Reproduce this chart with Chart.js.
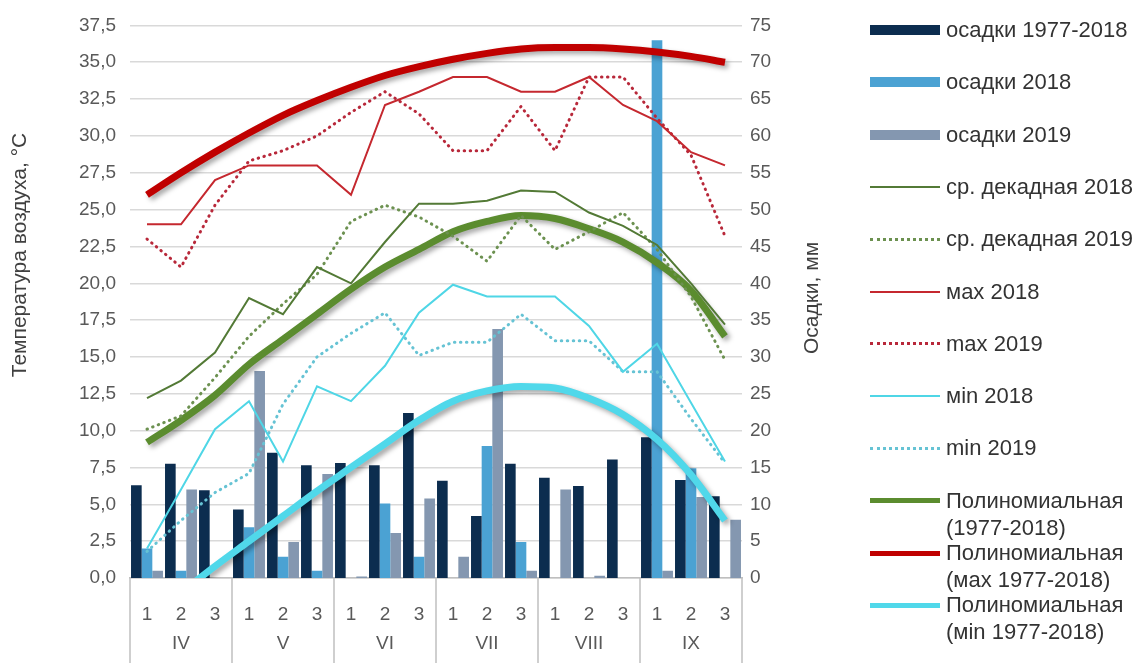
<!DOCTYPE html>
<html>
<head>
<meta charset="utf-8">
<script src="https://cdn.jsdelivr.net/npm/chart.js@4.4.1/dist/chart.umd.min.js"></script>
<style>
  html, body { margin: 0; padding: 0; background: #fff; }
  #wrap { position: relative; width: 1137px; height: 663px; }
  #legend { position: absolute; left: 0; top: 0; font-family: 'Liberation Sans', Arial, sans-serif; font-size: 22px; color: #333; }
  .item { position: absolute; left: 870px; }
  .sw { position: absolute; left: 0; width: 70px; }
  .txt { position: absolute; left: 76px; top: -14px; line-height: 27px; white-space: pre; }
</style>
</head>
<body>
<div id="wrap">
  <canvas id="chart" width="1137" height="663"></canvas>
  <div id="legend"></div>
</div>
<script>
const decades = ['1','2','3','1','2','3','1','2','3','1','2','3','1','2','3','1','2','3'];
const months = ['IV', 'V', 'VI', 'VII', 'VIII', 'IX'];

// осадки, мм
const precipNorm = [12.6, 15.5, 11.9, 9.3, 17.0, 15.3, 15.6, 15.3, 22.4, 13.2, 8.4, 15.5, 13.6, 12.5, 16.1, 19.1, 13.3, 11.1];
const precip2018 = [4.0, 1.0, 0, 6.9, 2.9, 1.0, 0, 10.1, 2.9, 0, 17.9, 4.9, 0, 0, 0, 73.0, 14.9, 0];
const precip2019 = [1.0, 12.0, 0, 28.1, 4.9, 14.1, 0.2, 6.1, 10.8, 2.9, 33.8, 1.0, 12.0, 0.3, 0, 1.0, 11.0, 7.9];

// температура, °C
const tAvg2018 = [12.2, 13.4, 15.3, 19.0, 17.9, 21.1, 20.0, 22.8, 25.4, 25.4, 25.6, 26.3, 26.2, 24.8, 23.9, 22.6, 20.0, 17.2];
const tAvg2019 = [10.1, 11.0, 13.6, 16.4, 18.6, 20.6, 24.2, 25.3, 24.5, 23.2, 21.5, 24.6, 22.3, 23.5, 24.8, 22.3, 19.1, 14.8];
const tMax2018 = [24.0, 24.0, 27.0, 28.0, 28.0, 28.0, 26.0, 32.1, 33.0, 34.0, 34.0, 33.0, 33.0, 34.0, 32.1, 31.0, 28.9, 28.0];
const tMax2019 = [23.0, 21.1, 25.3, 28.3, 29.0, 30.0, 31.6, 33.0, 31.5, 29.0, 29.0, 32.0, 29.0, 34.0, 34.0, 31.2, 28.7, 23.2];
const tMin2018 = [2.0, 6.0, 10.1, 12.0, 7.9, 13.0, 12.0, 14.4, 18.0, 19.9, 19.1, 19.1, 19.1, 17.1, 14.0, 15.9, 11.9, 7.9];
const tMin2019 = [1.8, 3.9, 5.8, 7.1, 11.8, 15.0, 16.6, 18.0, 15.1, 16.0, 16.0, 17.9, 16.1, 16.1, 14.0, 14.0, 10.8, 7.8];
const trendAvg = [9.2, 10.7, 12.4, 14.5, 16.2, 17.9, 19.6, 21.1, 22.3, 23.5, 24.2, 24.6, 24.4, 23.7, 22.8, 21.4, 19.5, 16.4];
const trendMax = [26.0, 27.5, 28.9, 30.2, 31.4, 32.4, 33.3, 34.1, 34.7, 35.2, 35.6, 35.9, 36.0, 36.0, 35.9, 35.7, 35.4, 35.0];
const trendMin = [-2.8, -1.0, 0.8, 2.5, 4.2, 5.9, 7.5, 9.1, 10.7, 12.0, 12.7, 13.0, 12.9, 12.2, 11.1, 9.4, 7.0, 3.9];

Chart.defaults.font.family = "'Liberation Sans', Arial, sans-serif";
Chart.defaults.color = '#595959';

function bar(label, data, color) {
  return { type: 'bar', label: label, data: data, yAxisID: 'yP', backgroundColor: color,
           barPercentage: 1.0, categoryPercentage: 0.94, order: 2 };
}
function line(label, data, color, width, dotted, shadow) {
  return { type: 'line', label: label, data: data, yAxisID: 'yT', borderColor: color,
           backgroundColor: color, borderWidth: width, pointRadius: 0, fill: false,
           borderDash: dotted ? [0.5, 5.5] : [], borderCapStyle: dotted ? 'round' : 'butt',
           cubicInterpolationMode: shadow ? 'monotone' : 'default', order: 1, shadow: shadow };
}

const extras = {
  id: 'extras',
  beforeDatasetDraw(chart, args) {
    if (chart.data.datasets[args.index].shadow) {
      const c = chart.ctx;
      c.save();
      c.shadowColor = 'rgba(0,0,0,0.35)';
      c.shadowBlur = 5;
      c.shadowOffsetX = 3;
      c.shadowOffsetY = 3;
    }
  },
  afterDatasetDraw(chart, args) {
    if (chart.data.datasets[args.index].shadow) chart.ctx.restore();
  },
  afterDraw(chart) {
    const ctx = chart.ctx, area = chart.chartArea, x = chart.scales.x;
    const half = (x.getPixelForValue(1) - x.getPixelForValue(0)) / 2;
    ctx.save();
    ctx.strokeStyle = '#bfbfbf';
    ctx.lineWidth = 1.5;
    for (let m = 0; m <= months.length; m++) {
      const px = m < months.length ? x.getPixelForValue(m * 3) - half : x.getPixelForValue(m * 3 - 1) + half;
      ctx.beginPath();
      ctx.moveTo(px, area.bottom);
      ctx.lineTo(px, chart.height);
      ctx.stroke();
    }
    ctx.fillStyle = '#595959';
    ctx.font = "19px 'Liberation Sans'";
    ctx.textAlign = 'center';
    ctx.textBaseline = 'middle';
    months.forEach((m, i) => ctx.fillText(m, x.getPixelForValue(i * 3 + 1), 644));

    ctx.fillStyle = '#404040';
    ctx.font = "21px 'Liberation Sans'";
    ctx.save();
    ctx.translate(20, 255);
    ctx.rotate(-Math.PI / 2);
    ctx.fillText('Температура воздуха, °C', 0, 0);
    ctx.restore();
    ctx.translate(812, 298);
    ctx.rotate(-Math.PI / 2);
    ctx.fillText('Осадки, мм', 0, 0);
    ctx.restore();
  }
};

const chart = new Chart(document.getElementById('chart'), {
  type: 'bar',
  data: {
    labels: decades,
    datasets: [
      bar('осадки 1977-2018', precipNorm, '#0c2d4f'),
      bar('осадки 2018', precip2018, '#4ba2d3'),
      bar('осадки 2019', precip2019, '#8497b0'),
      line('ср. декадная 2018', tAvg2018, '#537a36', 2, false, false),
      line('ср. декадная 2019', tAvg2019, '#6c9150', 3, true, false),
      line('мах 2018', tMax2018, '#c5282f', 2, false, false),
      line('max 2019', tMax2019, '#b8283a', 3, true, false),
      line('мin 2018', tMin2018, '#4fd6e6', 2, false, false),
      line('min 2019', tMin2019, '#66c3d4', 3, true, false),
      line('Полиномиальная\n(1977-2018)', trendAvg, '#5b8c2f', 7, false, true),
      line('Полиномиальная\n(мах 1977-2018)', trendMax, '#c00000', 7, false, true),
      line('Полиномиальная\n(мin 1977-2018)', trendMin, '#50d8ea', 7, false, true)
    ]
  },
  options: {
    responsive: false,
    animation: false,
    layout: { padding: { left: 0, right: 302, top: 25, bottom: 0 } },
    plugins: { legend: { display: false }, tooltip: { enabled: false } },
    scales: {
      x: {
        offset: true,
        grid: { display: false },
        border: { display: true, color: '#bfbfbf', width: 1.5 },
        ticks: { font: { size: 19 }, padding: 17, maxRotation: 0, autoSkip: false },
        afterFit: s => { s.height = 85; }
      },
      yT: {
        position: 'left', min: 0, max: 37.5,
        ticks: { stepSize: 2.5, padding: 14, font: { size: 19 },
                 callback: v => v.toFixed(1).replace('.', ',') },
        grid: { color: '#d9d9d9', lineWidth: 1.5, drawTicks: false },
        border: { display: false },
        afterFit: s => { s.width = 130; }
      },
      yP: {
        position: 'right', min: 0, max: 75,
        ticks: { stepSize: 5, padding: 8, font: { size: 19 } },
        grid: { display: false, drawTicks: false },
        border: { display: false },
        afterFit: s => { s.width = 93; }
      }
    }
  },
  plugins: [extras]
});

// html legend
const legendBox = document.getElementById('legend');
chart.data.datasets.forEach((ds, i) => {
  const item = document.createElement('div');
  item.className = 'item';
  item.style.top = (30 + i * 52.3) + 'px';
  const sw = document.createElement('div');
  sw.className = 'sw';
  if (ds.type === 'bar') {
    sw.style.height = '10px';
    sw.style.top = '-5px';
    sw.style.background = ds.backgroundColor;
  } else {
    const w = Math.min(ds.borderWidth, 5);
    sw.style.borderTop = w + 'px ' + (ds.borderDash.length ? 'dotted ' : 'solid ') + ds.borderColor;
    sw.style.top = (-w / 2) + 'px';
  }
  const txt = document.createElement('div');
  txt.className = 'txt';
  txt.textContent = ds.label;
  item.appendChild(sw);
  item.appendChild(txt);
  legendBox.appendChild(item);
});
</script>
</body>
</html>
